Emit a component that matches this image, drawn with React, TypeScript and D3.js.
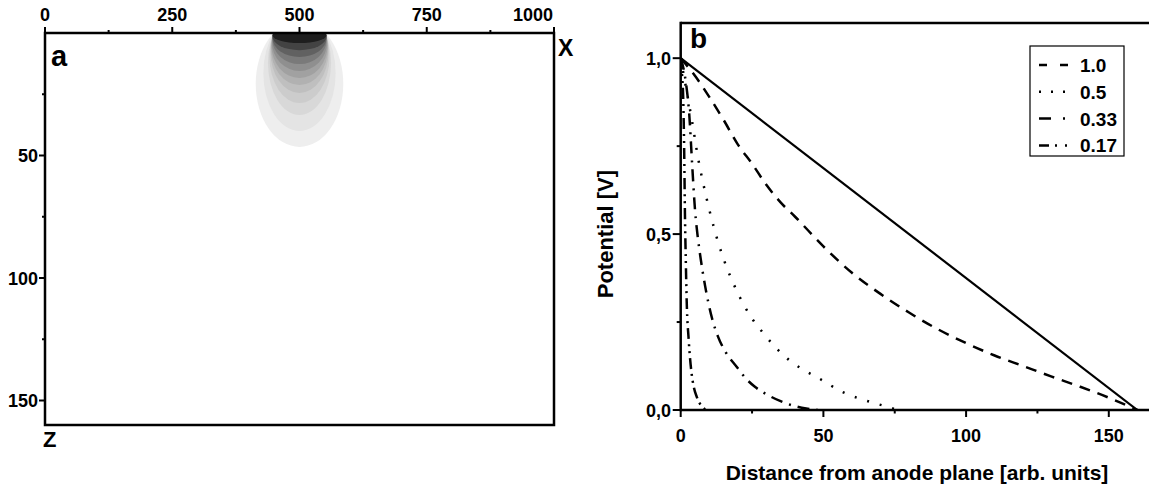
import React from "react";
import * as d3 from "d3";

// ---------- Panel a data ----------
const xTicksA = [0, 250, 500, 750, 1000];
const xMinorA = [125, 375, 625, 875];
const zTicksA = [50, 100, 150];
const zMinorA = [25, 75, 125];
const blobCenterX = 500;
const blobEdge = 51; // half-width of source strip at surface
const blobDepth = [46.5, 40, 33.5, 28.6, 24.5, 21.2, 18.4, 15.5, 12.7, 9.8, 7.0, 4.1];
const blobHalfWidth = [86, 71, 62, 59, 57, 56, 55, 54, 53, 53, 53, 53];
const blobShade = ["#eeeeee", "#e4e4e4", "#d8d8d8", "#cccccc", "#bfbfbf", "#b1b1b1", "#a1a1a1", "#8f8f8f", "#7a7a7a", "#616161", "#434343", "#1e1e1e"];

// ---------- Panel b data ----------
const xTicksB = [0, 50, 100, 150];
const xMinorB = [25, 75, 125];
const yTicksB = [0, 0.5, 1.0];
const yTickLabelsB = ["0,0", "0,5", "1,0"];
const yMinorB = [0.25, 0.75];

const solidX = [0, 160];
const solidY = [1, 0];

const dashX = [0, 5, 10, 15, 20, 25, 30, 35, 40, 50, 60, 70, 80, 90, 100, 110, 120, 130, 140, 150, 160];
const dashY = [1, 0.95, 0.89, 0.825, 0.755, 0.7, 0.64, 0.59, 0.55, 0.465, 0.39, 0.33, 0.277, 0.23, 0.19, 0.155, 0.125, 0.095, 0.066, 0.035, 0];

const dotX = [0, 2, 4, 6, 8, 10, 13, 15, 19, 25, 29, 33, 38, 43, 48, 57, 66, 72, 76];
const dotY = [1, 0.91, 0.82, 0.72, 0.64, 0.57, 0.48, 0.43, 0.35, 0.26, 0.218, 0.18, 0.142, 0.114, 0.092, 0.05, 0.024, 0.01, 0];

const dashDotX = [0, 1, 2, 3, 4, 5, 6, 7, 8.5, 11, 13, 15.5, 19.6, 23, 26, 30, 35, 40, 44, 48];
const dashDotY = [1, 0.97, 0.92, 0.84, 0.7, 0.57, 0.49, 0.43, 0.355, 0.26, 0.21, 0.168, 0.123, 0.088, 0.066, 0.045, 0.025, 0.011, 0.004, 0];

const dashDotDotX = [0, 0.5, 0.9, 1.2, 1.5, 1.8, 2.1, 2.8, 3.8, 4.6, 5.6, 7.4, 9];
const dashDotDotY = [1, 0.95, 0.88, 0.75, 0.55, 0.42, 0.31, 0.2, 0.105, 0.065, 0.038, 0.01, 0];

const legendLabels = ["1.0", "0.5", "0.33", "0.17"];
const legendDash = ["8,13", "2,10", "12,12,2,10", "10,6,2,8,2,8"];
const curveDash = ["11,8", "2,11", "12,7,2,7", "11,5,2,5,2,5"];

const FONT = "'Liberation Sans', Arial, Helvetica, sans-serif";

export default function App() {
  // Panel a scales
  const xa = d3.scaleLinear().domain([0, 1000]).range([45, 554]);
  const za = d3.scaleLinear().domain([0, 160]).range([33, 425]);
  // Panel b scales
  const xb = d3.scaleLinear().domain([0, 165]).range([680.7, 1151.6]);
  const yb = d3.scaleLinear().domain([0, 1.1]).range([410, 23]);

  const line = d3
    .line<[number, number]>()
    .x((d) => xb(d[0]))
    .y((d) => yb(d[1]))
    .curve(d3.curveMonotoneX);

  const series = [
    { xs: dashX, ys: dashY },
    { xs: dotX, ys: dotY },
    { xs: dashDotX, ys: dashDotY },
    { xs: dashDotDotX, ys: dashDotDotY },
  ];

  const ellipses = blobDepth.map((d, i) => {
    const a = blobHalfWidth[i];
    const s = Math.sqrt(Math.max(0, 1 - (blobEdge * blobEdge) / (a * a)));
    const b = d / (1 + s);
    const zc = b * s;
    return {
      cx: xa(blobCenterX),
      cy: za(zc),
      rx: xa(blobCenterX + a) - xa(blobCenterX),
      ry: za(zc + b) - za(zc),
      fill: blobShade[i],
    };
  });

  const tf = { fontFamily: FONT, fontWeight: 700 as const, fill: "#000" };

  return (
    <svg
      width={1149}
      height={489}
      style={{ position: "absolute", left: 0, top: 0, background: "#fff" }}
    >
      <defs>
        <clipPath id="clipA">
          <rect x={xa(0)} y={za(0)} width={xa(1000) - xa(0)} height={za(160) - za(0)} />
        </clipPath>
        <clipPath id="clipB">
          <rect x={xb(0)} y={yb(1.1)} width={500} height={yb(0) - yb(1.1)} />
        </clipPath>
      </defs>

      {/* ---------------- Panel a ---------------- */}
      <g clipPath="url(#clipA)">
        {ellipses.map((e, i) => (
          <ellipse key={i} cx={e.cx} cy={e.cy} rx={e.rx} ry={e.ry} fill={e.fill} />
        ))}
      </g>
      <rect
        x={xa(0)}
        y={za(0)}
        width={xa(1000) - xa(0)}
        height={za(160) - za(0)}
        fill="none"
        stroke="#000"
        strokeWidth={2.5}
      />
      {xTicksA.map((t, i) => (
        <g key={"xa" + t}>
          <line x1={xa(t)} x2={xa(t)} y1={za(0)} y2={za(0) - 6} stroke="#000" strokeWidth={2} />
          <text
            x={i === xTicksA.length - 1 ? xa(t) - 1 : xa(t)}
            y={21}
            textAnchor={i === xTicksA.length - 1 ? "end" : "middle"}
            fontSize={18}
            {...tf}
          >
            {t}
          </text>
        </g>
      ))}
      {xMinorA.map((t) => (
        <line key={"xam" + t} x1={xa(t)} x2={xa(t)} y1={za(0)} y2={za(0) - 3} stroke="#000" strokeWidth={2} />
      ))}
      {zTicksA.map((t) => (
        <g key={"za" + t}>
          <line x1={xa(0)} x2={xa(0) - 6} y1={za(t)} y2={za(t)} stroke="#000" strokeWidth={2} />
          <text x={38} y={za(t) + 6.5} textAnchor="end" fontSize={18} {...tf}>
            {t}
          </text>
        </g>
      ))}
      {zMinorA.map((t) => (
        <line key={"zam" + t} x1={xa(0)} x2={xa(0) - 3} y1={za(t)} y2={za(t)} stroke="#000" strokeWidth={2} />
      ))}
      <text x={51} y={66} fontSize={29} {...tf}>a</text>
      <text x={558} y={56} fontSize={23} {...tf}>X</text>
      <text x={43} y={447} fontSize={22} {...tf}>Z</text>

      {/* ---------------- Panel b ---------------- */}
      <g clipPath="url(#clipB)">
        <path
          d={line(solidX.map((x, i) => [x, solidY[i]]) as [number, number][]) || ""}
          fill="none"
          stroke="#000"
          strokeWidth={2.2}
        />
        {series.map((s, k) => (
          <path
            key={k}
            d={line(s.xs.map((x, i) => [x, s.ys[i]]) as [number, number][]) || ""}
            fill="none"
            stroke="#000"
            strokeWidth={2.5}
            strokeDasharray={curveDash[k]}
          />
        ))}
      </g>
      {/* frame */}
      <line x1={xb(0)} x2={1160} y1={yb(1.1)} y2={yb(1.1)} stroke="#000" strokeWidth={2.5} />
      <line x1={xb(0)} x2={1160} y1={yb(0)} y2={yb(0)} stroke="#000" strokeWidth={2.5} />
      <line x1={xb(0)} x2={xb(0)} y1={yb(1.1) - 1.25} y2={yb(0) + 1.25} stroke="#000" strokeWidth={2.5} />
      {xTicksB.map((t) => (
        <g key={"xb" + t}>
          <line x1={xb(t)} x2={xb(t)} y1={yb(0)} y2={yb(0) + 7} stroke="#000" strokeWidth={2} />
          <text x={xb(t)} y={442} textAnchor="middle" fontSize={18} {...tf}>
            {t}
          </text>
        </g>
      ))}
      {xMinorB.map((t) => (
        <line key={"xbm" + t} x1={xb(t)} x2={xb(t)} y1={yb(0)} y2={yb(0) + 3.5} stroke="#000" strokeWidth={2} />
      ))}
      {yTicksB.map((t, i) => (
        <g key={"yb" + t}>
          <line x1={xb(0)} x2={xb(0) - 8} y1={yb(t)} y2={yb(t)} stroke="#000" strokeWidth={2} />
          <text x={671} y={yb(t) + 6.5} textAnchor="end" fontSize={18} {...tf}>
            {yTickLabelsB[i]}
          </text>
        </g>
      ))}
      {yMinorB.map((t) => (
        <line key={"ybm" + t} x1={xb(0)} x2={xb(0) - 4} y1={yb(t)} y2={yb(t)} stroke="#000" strokeWidth={2} />
      ))}
      <text x={917} y={480} textAnchor="middle" fontSize={21} {...tf}>
        Distance from anode plane [arb. units]
      </text>
      <text
        transform={`translate(613, ${yb(0.5)}) rotate(-90)`}
        textAnchor="middle"
        fontSize={22}
        {...tf}
      >
        Potential [V]
      </text>
      <text x={690} y={48} fontSize={28} {...tf}>b</text>

      {/* legend */}
      <rect x={1030} y={46} width={94} height={110} fill="#fff" stroke="#000" strokeWidth={1.2} />
      {legendLabels.map((lab, i) => {
        const cy = 65 + i * 26.8;
        return (
          <g key={lab}>
            <line
              x1={1039}
              x2={1069}
              y1={cy}
              y2={cy}
              stroke="#000"
              strokeWidth={2.5}
              strokeDasharray={legendDash[i]}
            />
            <text x={1080} y={cy + 7} fontSize={19} {...tf}>
              {lab}
            </text>
          </g>
        );
      })}
    </svg>
  );
}
